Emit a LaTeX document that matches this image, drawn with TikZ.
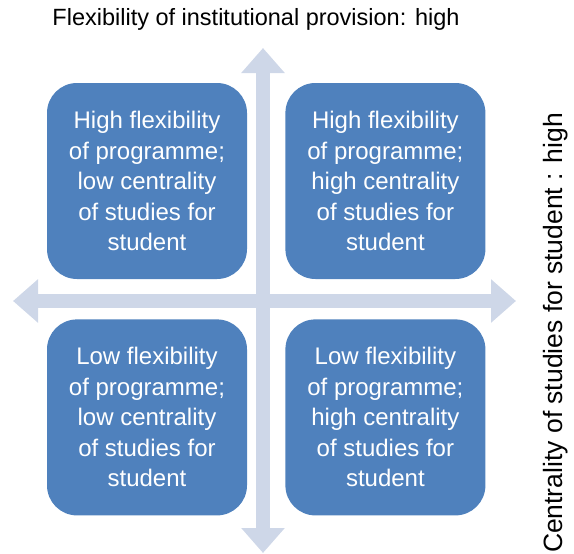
\documentclass[tikz,border=0pt]{standalone}
\usepackage{fontspec}
\setmainfont{Liberation Sans}
\usetikzlibrary{arrows.meta,positioning}
\definecolor{boxblue}{HTML}{4F81BD}
\definecolor{axisblue}{HTML}{CED7E8}

\begin{document}
\begin{tikzpicture}[x=1pt, y=-1pt,
  quad/.style={rectangle, rounded corners=30pt, fill=boxblue, text=white,
    minimum width=200pt, minimum height=196pt, inner sep=0pt, align=center,
    font=\fontsize{24}{30.5}\selectfont},
  axis/.style={line width=14pt, draw=axisblue,
    {Triangle[width=42pt,length=25pt]}-{Triangle[width=42pt,length=25pt]}},
  label/.style={font=\fontsize{23.5}{28}\selectfont}]

\useasboundingbox (0,0) rectangle (574,554);

% axes
\coordinate (top)    at (263,48);
\coordinate (bottom) at (263,553);
\coordinate (left)   at (13,301);
\coordinate (right)  at (516,301);
\draw[axis] (top) -- (bottom);
\draw[axis] (left) -- (right);

% quadrants
\node[quad] (tl) at (147,181)  {High flexibility\\of programme;\\low centrality\\of studies for\\student};
\node[quad] (tr) [right=38pt of tl] {High flexibility\\of programme;\\high centrality\\of studies for\\student};
\node[quad] (bl) [below=40pt of tl] {Low flexibility\\of programme;\\low centrality\\of studies for\\student};
\node[quad] (br) [right=38pt of bl] {Low flexibility\\of programme;\\high centrality\\of studies for\\student};

% axis labels
\node[label] (xlab) at (256,19) {Flexibility of institutional provision: high};
\node[label, rotate=90, font=\fontsize{26.5}{28}\selectfont] (ylab) at (556,333) {Centrality of studies for student : high};
\end{tikzpicture}
\end{document}
